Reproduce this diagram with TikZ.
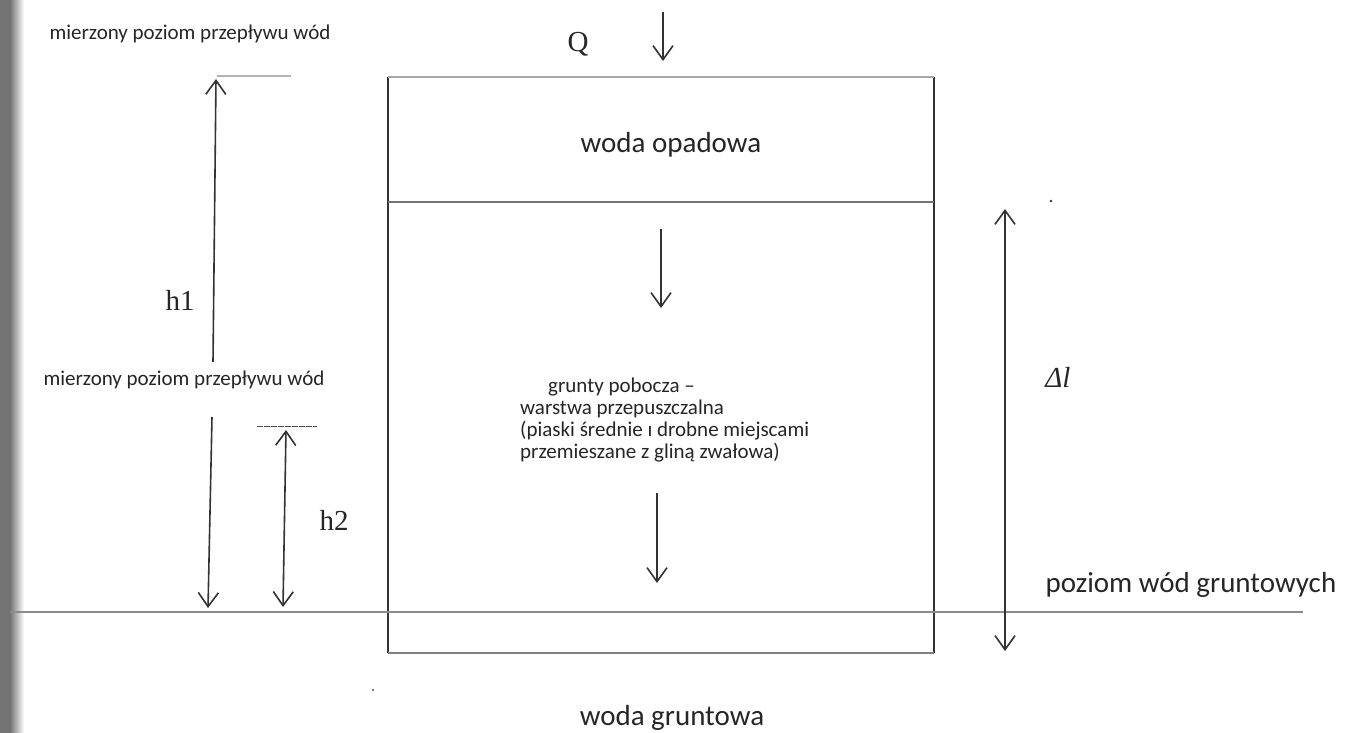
\documentclass[tikz,border=0pt]{standalone}
\usepackage{fontspec}
\setmainfont{Carlito}
\newfontfamily\seriffont{Liberation Serif}
\usetikzlibrary{arrows.meta}
\begin{document}
\begin{tikzpicture}[x=1pt,y=-1pt,
  txt/.style={inner sep=0pt, text=black!85, font=\fontsize{21}{24}\selectfont},
  big/.style={inner sep=0pt, text=black!85, font=\fontsize{29}{32}\selectfont},
  ser/.style={inner sep=0pt, text=black!85, font=\seriffont\fontsize{29}{32}\selectfont},
  tipb/.tip={Straight Barb[length=14pt,width=20pt]},
  arr/.style={draw=black!80, line width=1.6pt, -tipb},
  darr/.style={draw=black!80, line width=1.6pt, tipb-tipb},
  grayline/.style={draw=black!45, line width=2.2pt},
  boxside/.style={draw=black!80, line width=1.2pt}]
\useasboundingbox (0,0) rectangle (1353,733);
\fill[white] (0,0) rectangle (1353,733);
% scan border
\fill[black!55] (0,0) rectangle (10,733);
\shade[left color=black!55, right color=white] (10,0) rectangle (24,733);

% box
\coordinate (bTL) at (388,77);
\coordinate (bTR) at (934,77);
\coordinate (bML) at (388,202);
\coordinate (bMR) at (934,202);
\coordinate (bBL) at (388,653);
\coordinate (bBR) at (934,653);
\draw[boxside] (bTL) -- (bBL);
\draw[boxside] (bTR) -- (bBR);
\draw[grayline, draw=black!35] (bTL) -- (bTR);
\draw[grayline, draw=black!55] (bML) -- (bMR);
\draw[grayline, draw=black!50] (bBL) -- (bBR);

% ground water level
\coordinate (gL) at (10,612);
\coordinate (gR) at (1303,612);
\draw[grayline] (gL) -- (gR);

% measured levels
\coordinate (l1a) at (217,76);
\coordinate (l1b) at (291,76);
\draw[grayline, draw=black!30, line width=2.5pt] (l1a) -- (l1b);
\coordinate (l2a) at (257,426);
\coordinate (l2b) at (317,426);
\draw[draw=black!70, line width=1pt, dash pattern=on 6pt off 1pt] (l2a) -- (l2b);

% texts
\node[txt] (m1) at (190,34) {mierzony poziom przepływu wód};
\node[txt] (m2) at (184,380) {mierzony poziom przepływu wód};
\node[ser] (Q) at (578,44) {Q};
\node[big] (wo) at (671,145) {woda opadowa};
\node[ser] (h1) at (180,300) {h1};
\node[ser] (h2) at (334,520) {h2};
\node[ser, font=\seriffont\itshape\fontsize{29}{32}\selectfont] (dl) at (1058,377) {Δl};
\node[big] (pw) at (1191,585) {poziom wód gruntowych};
\node[big] (wg) at (672,718) {woda gruntowa};
\node[txt, anchor=west] (t1) at (548,387) {grunty pobocza –};
\node[txt, anchor=west] (t2) at (520,409) {warstwa przepuszczalna};
\node[txt, anchor=west] (t3) at (520,431) {(piaski średnie ı drobne miejscami};
\node[txt, anchor=west] (t4) at (520,453) {przemieszane z gliną zwałowa)};

% arrows
\coordinate (h1b) at (213,362);
\coordinate (h1t) at (216,79);
\draw[arr] (h1b) -- (h1t);
\coordinate (h1c) at (212,417);
\coordinate (h1d) at (208,608);
\draw[arr] (h1c) -- (h1d);
\coordinate (h2t) at (286,430);
\coordinate (h2b) at (283,607);
\draw[darr] (h2t) -- (h2b);
\coordinate (q1) at (663,12);
\coordinate (q2) at (663,61);
\draw[arr] (q1) -- (q2);
\coordinate (a1) at (661,229);
\coordinate (a2) at (661,308);
\draw[arr] (a1) -- (a2);
\coordinate (a3) at (657,493);
\coordinate (a4) at (657,583);
\draw[arr] (a3) -- (a4);
\coordinate (d1) at (1005,209);
\coordinate (d2) at (1005,651);
\draw[darr] (d1) -- (d2);

% stray dots
\fill[black!80] (1051,201) circle (1.3pt);
\fill[black!70] (373,690) circle (1.1pt);
\end{tikzpicture}
\end{document}
